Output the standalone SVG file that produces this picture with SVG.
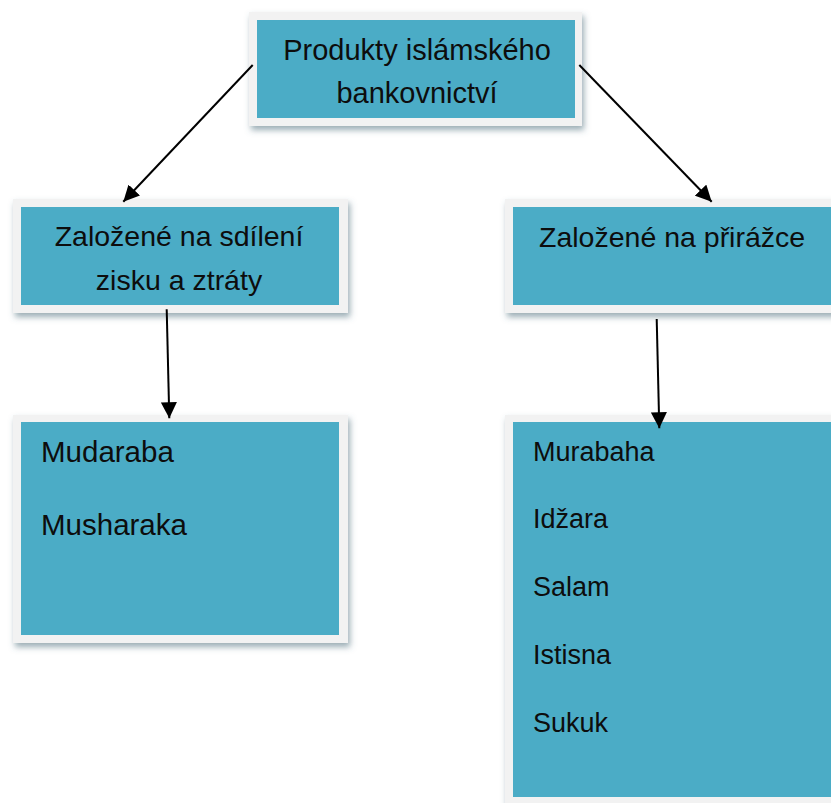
<svg xmlns="http://www.w3.org/2000/svg" width="831" height="803" viewBox="0 0 831 803">
<defs>
<filter id="sh" x="-10%" y="-10%" width="130%" height="130%">
<feDropShadow dx="2" dy="4" stdDeviation="3" flood-color="#4a6a78" flood-opacity="0.55"/>
</filter>
<marker id="ah" viewBox="0 0 10 10" refX="10" refY="5" markerWidth="8" markerHeight="8" orient="auto" markerUnits="strokeWidth">
<path d="M0,0 L10,5 L0,10 z" fill="#000"/>
</marker>
</defs>
<style>
.frame{fill:#f2f2f2;filter:url(#sh)}
.fill{fill:#4bacc6}
text{font-family:"Liberation Sans",Arial,sans-serif;fill:#0d0d0d}
.big{font-size:29px}
.mid{font-size:28.5px}
.lst{font-size:29.5px}
.sm{font-size:27px}
.conn line{stroke:#000;stroke-width:2;marker-end:url(#ah)}
</style>
<rect width="831" height="803" fill="#fff"/>
<g id="root">
<rect class="frame" x="249" y="12" width="333" height="114"/>
<rect class="fill" x="257" y="20" width="318" height="98"/>
<text class="big" x="417" y="60" text-anchor="middle">Produkty islámského</text>
<text class="big" x="417" y="103" text-anchor="middle">bankovnictví</text>
</g>
<g id="profit-loss">
<rect class="frame" x="13" y="199" width="335" height="114"/>
<rect class="fill" x="21" y="207" width="318" height="98"/>
<text class="mid" x="179" y="246" text-anchor="middle">Založené na sdílení</text>
<text class="mid" x="179" y="290" text-anchor="middle">zisku a ztráty</text>
</g>
<g id="markup">
<rect class="frame" x="505" y="199" width="340" height="114"/>
<rect class="fill" x="513" y="207" width="330" height="98"/>
<text class="mid" x="539" y="247">Založené na přirážce</text>
</g>
<g id="pls-products">
<rect class="frame" x="13" y="415" width="335" height="228"/>
<rect class="fill" x="21" y="422" width="318" height="213"/>
<text class="lst" x="41" y="462">Mudaraba</text>
<text class="lst" x="41" y="535">Musharaka</text>
</g>
<g id="markup-products">
<rect class="frame" x="505" y="415" width="340" height="400"/>
<rect class="fill" x="513" y="422" width="330" height="375"/>
<text class="sm" x="533" y="461">Murabaha</text>
<text class="sm" x="533" y="528">Idžara</text>
<text class="sm" x="533" y="596">Salam</text>
<text class="sm" x="533" y="664">Istisna</text>
<text class="sm" x="533" y="732">Sukuk</text>
</g>
<g class="conn" id="connectors">
<line x1="252.7" y1="65" x2="123.3" y2="201.7"/>
<line x1="579.3" y1="65" x2="711.7" y2="201.7"/>
<line x1="166.7" y1="309.3" x2="169.3" y2="418.3"/>
<line x1="656.7" y1="319" x2="659.3" y2="428.3"/>
</g>
</svg>
